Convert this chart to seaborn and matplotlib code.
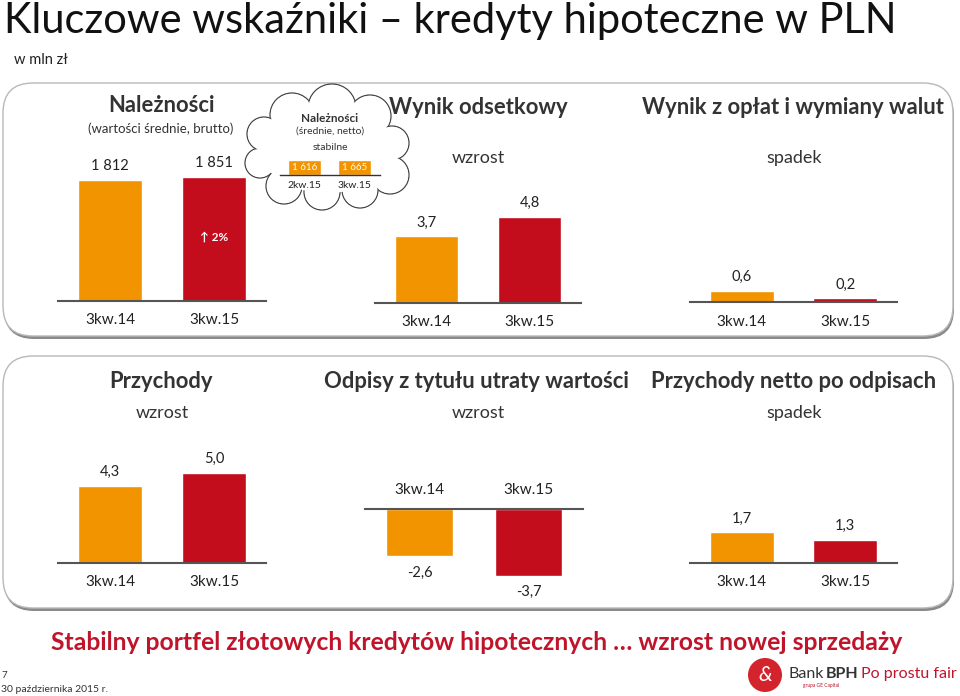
import matplotlib
matplotlib.use("Agg")
import matplotlib.pyplot as plt
from matplotlib.patches import FancyBboxPatch, Circle, Ellipse
import seaborn as sns

# ---- data ----
kategorie = ["3kw.14", "3kw.15"]
naleznosci = [1812, 1851]
wynik_odsetkowy = [3.7, 4.8]
wynik_oplat = [0.6, 0.2]
przychody = [4.3, 5.0]
odpisy = [-2.6, -3.7]
przychody_netto = [1.7, 1.3]
chmura_kat = ["2kw.15", "3kw.15"]
chmura_naleznosci = [1616, 1665]

ORANGE = "#F29400"
RED = "#C30C1C"
DARK = "#333333"
W, H = 960, 696

sns.set_theme(style="white")
plt.rcParams["font.family"] = ["Lato", "DejaVu Sans"]

fig = plt.figure(figsize=(9.6, 6.96), dpi=100)
bg = fig.add_axes([0, 0, 1, 1])
bg.set_xlim(0, W)
bg.set_ylim(H, 0)
bg.axis("off")


def ax_px(x0, y0, x1, y1):
    a = fig.add_axes([x0 / W, 1 - y1 / H, (x1 - x0) / W, (y1 - y0) / H])
    a.set_facecolor("none")
    return a


def fmt(v):
    return f"{v:.1f}".replace(".", ",")


def box(x0, y0, x1, y1):
    sh = FancyBboxPatch((x0 + 1, y0 + 3), x1 - x0, y1 - y0,
                        boxstyle="round,pad=0,rounding_size=30",
                        fc="#8a8a8a", ec="none", zorder=1)
    bg.add_patch(sh)
    b = FancyBboxPatch((x0, y0), x1 - x0, y1 - y0,
                       boxstyle="round,pad=0,rounding_size=30",
                       fc="white", ec="#b8b8b8", lw=1, zorder=2)
    bg.add_patch(b)


box(3, 83, 953, 336)
box(3, 356, 953, 608)


def panel(x0, x1, ytop, base, vals, scale, labels, neg=False, ybot=None):
    if not neg:
        a = ax_px(x0, ytop, x1, base)
        a.set_ylim(0, (base - ytop) / scale)
    else:
        a = ax_px(x0, base, x1, ybot)
        a.set_ylim(-(ybot - base) / scale, 0)
    sns.barplot(x=kategorie, y=vals, hue=kategorie, palette=[ORANGE, RED],
                legend=False, width=0.62, saturation=1, ax=a)
    a.set_xlim(-0.5, 1.5)
    for s in a.spines.values():
        s.set_visible(False)
    sp = a.spines["top"] if neg else a.spines["bottom"]
    sp.set_visible(True)
    sp.set_color("#555555")
    sp.set_linewidth(1.5)
    a.set_yticks([])
    a.set_ylabel("")
    a.set_xlabel("")
    if neg:
        a.xaxis.tick_top()
    a.tick_params(axis="x", length=0, pad=9, labelsize=11, colors="#222222")
    for c, lab in zip(a.containers, labels):
        a.bar_label(c, labels=[lab], padding=7 if neg else 5, fontsize=10.5,
                    color="#222222")
    return a


S = 18.0
a1 = panel(58, 266, 150, 301, naleznosci, 121 / 1812,
           [f"{v:,}".replace(",", " ") for v in naleznosci])
a1.text(1, 1851 * 0.52, "\u2191 2%", color="white", ha="center", va="center",
        fontsize=8.5, fontweight="bold")
panel(375, 581, 170, 303, wynik_odsetkowy, S, [fmt(v) for v in wynik_odsetkowy])
panel(690, 897, 240, 302, wynik_oplat, S, [fmt(v) for v in wynik_oplat])
panel(58, 266, 440, 563, przychody, S, [fmt(v) for v in przychody])
panel(365, 583, 0, 509, odpisy, S, [fmt(v) for v in odpisy], neg=True, ybot=600)
panel(690, 897, 490, 563, przychody_netto, S, [fmt(v) for v in przychody_netto])

# ---- titles ----
bg.text(4, 21, "Kluczowe wskaźniki \u2013 kredyty hipoteczne w PLN", fontsize=30,
        color="#111111", va="center", ha="left")
bg.text(14, 60, "w mln zł", fontsize=10.5, color="#222222", va="center")

tt = dict(fontsize=15.8, fontweight="bold", color=DARK, ha="center", va="center", zorder=5)
st = dict(fontsize=13, color=DARK, ha="center", va="center", zorder=5)
bg.text(161, 106, "Należności", **tt)
bg.text(161, 129, "(wartości średnie, brutto)", fontsize=9.5, color=DARK,
        ha="center", va="center", zorder=5)
bg.text(478, 107, "Wynik odsetkowy", **tt)
bg.text(478, 158, "wzrost", **st)
bg.text(793, 108, "Wynik z opłat i wymiany walut", **tt)
bg.text(794, 158, "spadek", **st)
bg.text(161, 381, "Przychody", **tt)
bg.text(162, 413, "wzrost", **st)
bg.text(476, 381, "Odpisy z tytułu utraty wartości", **tt)
bg.text(478, 413, "wzrost", **st)
bg.text(794, 381, "Przychody netto po odpisach", **tt)
bg.text(794, 413, "spadek", **st)

# ---- cloud ----
lumps = [(292, 115, 22), (332, 108, 24), (370, 116, 21), (392, 143, 17),
         (390, 175, 19), (360, 190, 18), (322, 192, 18), (284, 186, 18),
         (260, 163, 15), (264, 134, 17)]
for cx, cy, r in lumps:
    bg.add_patch(Circle((cx, cy), r, fc="white", ec="#444444", lw=0.9, zorder=6))
for cx, cy, r in lumps:
    bg.add_patch(Circle((cx, cy), r - 0.9, fc="white", ec="none", zorder=7))
bg.add_patch(Ellipse((327, 152), 130, 82, fc="white", ec="none", zorder=7))
bg.text(330, 119, "Należności", fontsize=8.5, fontweight="bold", color=DARK,
        ha="center", va="center", zorder=8)
bg.text(330, 131, "(średnie, netto)", fontsize=7.5, color=DARK,
        ha="center", va="center", zorder=8)
bg.text(330, 148, "stabilne", fontsize=7.5, color=DARK,
        ha="center", va="center", zorder=8)

ac = ax_px(279.5, 155, 379.5, 175)
ac.set_zorder(10)
sns.barplot(x=chmura_kat, y=chmura_naleznosci, color=ORANGE, width=0.66,
            saturation=1, ax=ac)
ac.set_ylim(0, 20 / 15 * 1665)
ac.set_xlim(-0.5, 1.5)
for s in ac.spines.values():
    s.set_visible(False)
ac.spines["bottom"].set_visible(True)
ac.spines["bottom"].set_color("#333333")
ac.spines["bottom"].set_linewidth(1)
ac.set_yticks([])
ac.set_ylabel("")
ac.tick_params(axis="x", length=0, pad=4, labelsize=7.5, colors="#222222")
ac.bar_label(ac.containers[0], labels=[f"{v:,}".replace(",", " ") for v in chmura_naleznosci],
             label_type="center", fontsize=7, color="white")

# ---- footer ----
bg.text(477, 642, "Stabilny portfel złotowych kredytów hipotecznych \u2026 wzrost nowej sprzedaży",
        fontsize=17.8, fontweight="bold", color="#C0142B", ha="center", va="center")
bg.text(1, 676, "7", fontsize=7, color="#333333", va="center")
bg.text(1, 689, "30 października 2015 r.", fontsize=7.5, color="#333333", va="center")

bg.add_patch(Circle((765, 675), 17, fc="#D3242E", ec="none"))
bg.text(765, 675, "&", fontsize=15, color="white", ha="center", va="center",
        fontstyle="italic")
bg.text(789, 674, "Bank", fontsize=11.5, color="#333333", va="center")
bg.text(826, 674, "BPH", fontsize=11.5, fontweight="bold", color="#333333", va="center")
bg.text(803, 686, "grupa GE Capital", fontsize=3.5, color="#C0142B", va="center")
bg.text(861, 674, "Po prostu fair", fontsize=11.5, color="#C0142B", va="center")

fig.savefig("out.png", dpi=100)
